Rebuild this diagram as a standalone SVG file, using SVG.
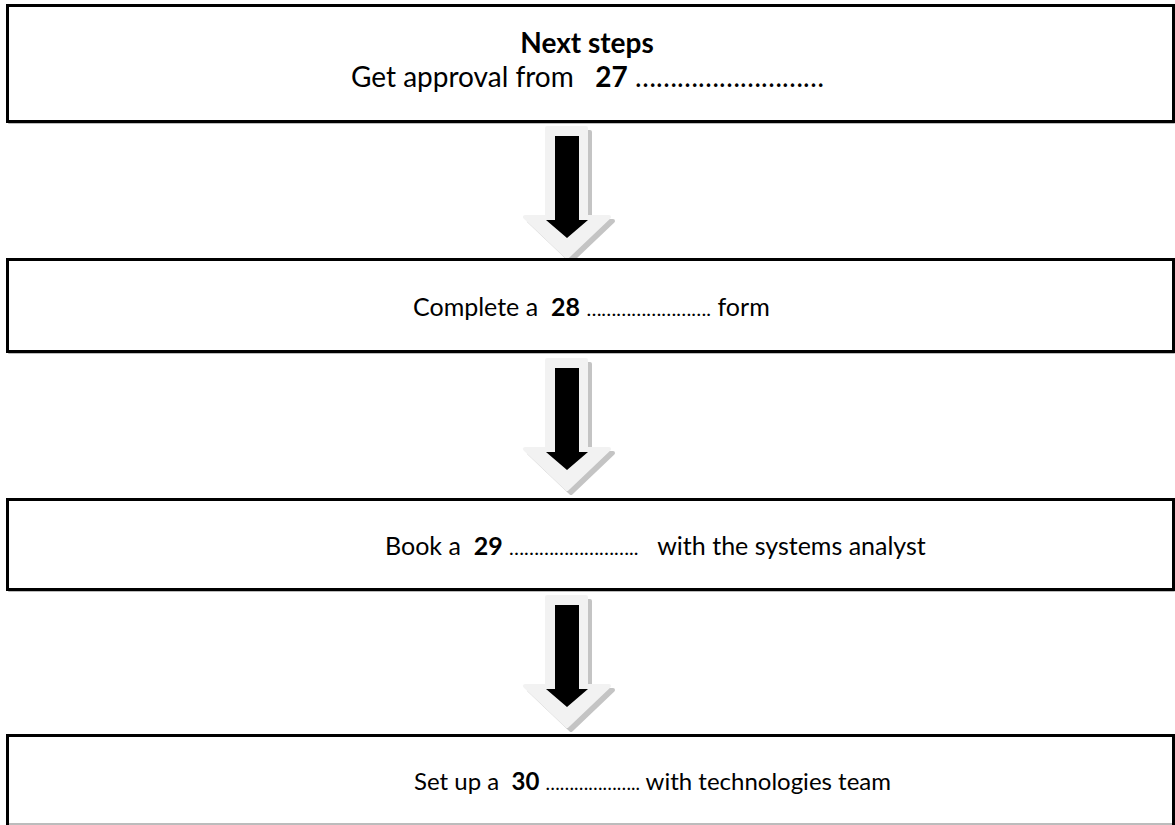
<svg xmlns="http://www.w3.org/2000/svg" width="1175" height="825" viewBox="0 0 1175 825">
<style>
.box{fill:#fff;stroke:#000;stroke-width:3}
.shd{fill:none;stroke:#a6a6a6;stroke-width:1.5}
.t{font-family:Lato,"Liberation Sans",sans-serif;font-size:25px;fill:#000;white-space:pre}
.b{font-weight:bold}
.d{font-size:20px}
.ao{fill:#f2f2f2;stroke:#f2f2f2;stroke-width:4;stroke-linejoin:round}
.as{fill:#c4c4c4;stroke:#c4c4c4;stroke-width:4;stroke-linejoin:round}
.ab{fill:#000}
</style>
<defs>
<g id="arr">
<polygon class="as" points="-16,-4 23,-4 23,85 46,85 4,125 -38,85 -16,85"/>
<polygon class="ao" points="-20,-8 19,-8 19,81 42,81 0,121 -42,81 -20,81"/>
<polygon class="ab" points="-12,0 12,0 12,84 21,84 0,102 -21,84 -12,84"/>
</g>
</defs>
<g id="connectors">
<use href="#arr" x="567" y="136"/>
<use href="#arr" x="567" y="368"/>
<use href="#arr" x="567" y="605"/>
</g>
<g id="node1">
<rect class="shd" x="9" y="7" width="1165" height="116"/>
<rect class="box" x="7.5" y="5.5" width="1166" height="116"/>
<text class="t b" x="587" y="53" text-anchor="middle" style="font-size:28px">Next steps</text>
<text class="t" x="351" y="87" style="font-size:28px" xml:space="preserve">Get approval from   <tspan class="b">27</tspan> <tspan style="font-size:28px">………………………</tspan></text>
</g>
<g id="node2">
<rect class="shd" x="9" y="261" width="1165" height="92"/>
<rect class="box" x="7.5" y="259.5" width="1166" height="92"/>
<text class="t" x="413" y="316" xml:space="preserve">Complete a  <tspan class="b">28</tspan> <tspan class="d">…………………….</tspan> form</text>
</g>
<g id="node3">
<rect class="shd" x="9" y="501" width="1165" height="90"/>
<rect class="box" x="7.5" y="499.5" width="1166" height="90"/>
<text class="t" x="385" y="555" xml:space="preserve">Book a  <tspan class="b">29</tspan> <tspan class="d">……………………..</tspan>   with the systems analyst</text>
</g>
<g id="node4">
<rect class="shd" x="9" y="737" width="1165" height="95"/>
<rect class="box" x="7.5" y="735.5" width="1166" height="95"/>
<line x1="9" y1="824" x2="1172" y2="824" stroke="#a6a6a6" stroke-width="1.5"/>
<text class="t" x="414" y="790" style="font-size:24px" xml:space="preserve">Set up a  <tspan class="b">30</tspan> <tspan style="font-size:19px">………………..</tspan> with technologies team</text>
</g>
</svg>
